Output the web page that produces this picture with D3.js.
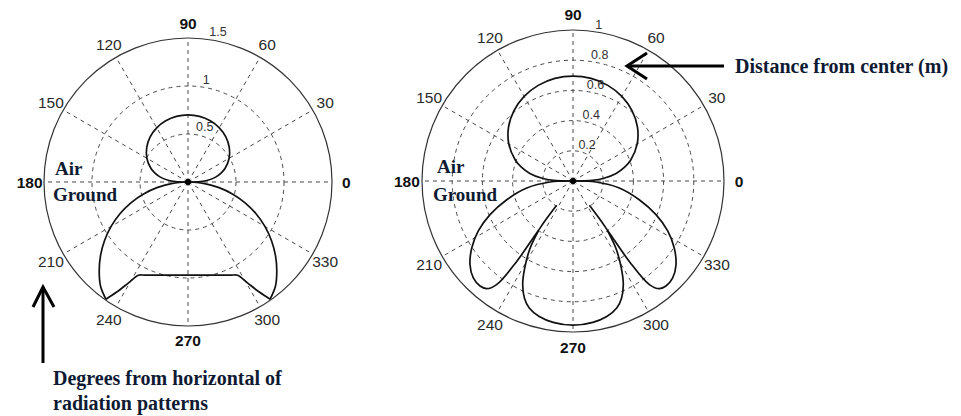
<!DOCTYPE html>
<html>
<head>
<meta charset="utf-8">
<script src="https://cdn.jsdelivr.net/npm/d3@7"></script>
<style>
  html, body { margin: 0; padding: 0; background: #fff; }
  svg { display: block; }
</style>
</head>
<body>
<svg id="chart" width="961" height="416"></svg>
<script>
// ---------------- DATA ----------------
const angleTicks = [0, 30, 60, 90, 120, 150, 180, 210, 240, 270, 300, 330];

// Left plot
const leftRings = [0.5, 1, 1.5];
const leftRingLabels = ["0.5", "1", "1.5"];
const leftAirAngles = [0, 2, 5, 10, 15, 20, 30, 40, 50, 60, 70, 80, 90, 100, 110, 120, 130, 140, 150, 160, 165, 170, 175, 178, 180];
const leftAirR      = [0, .131, .207, .292, .356, .41, .495, .561, .613, .652, .678, .694, .70, .694, .678, .652, .613, .561, .495, .41, .356, .292, .207, .131, 0];
// ground pattern, split into pieces at sharp corners
const leftGroundPieces = [
  { angles: [180, 185, 190, 195, 200, 205, 210, 215, 220, 225, 230, 235],
    r:      [0, .161, .321, .479, .633, .782, .925, 1.061, 1.189, 1.308, 1.417, 1.49] },
  { angles: [235, 237, 239.5, 242, 245, 250, 255, 260, 265, 270, 275, 280, 285, 290, 295, 298, 300.5, 303, 305],
    r:      [1.49, 1.37, 1.22, 1.10, 1.07, 1.032, 1.004, .985, .974, .97, .974, .985, 1.004, 1.032, 1.07, 1.10, 1.22, 1.37, 1.49] },
  { angles: [305, 310, 315, 320, 325, 330, 335, 340, 345, 350, 355, 360],
    r:      [1.49, 1.417, 1.308, 1.189, 1.061, .925, .782, .633, .479, .321, .161, 0] }
];

// Right plot
const rightRings = [0.2, 0.4, 0.6, 0.8, 1];
const rightRingLabels = ["0.2", "0.4", "0.6", "0.8", "1"];
const rightAirAngles = [0, 2, 5, 10, 15, 20, 30, 40, 50, 60, 70, 80, 90, 100, 110, 120, 130, 140, 150, 160, 165, 170, 175, 178, 180];
const rightAirR      = [0, .13, .205, .29, .354, .407, .491, .557, .608, .647, .674, .69, .695, .69, .674, .647, .608, .557, .491, .407, .354, .29, .205, .13, 0];
const rightGroundAngles = [236, 235, 235, 235, 233.6, 231.3, 228.5, 224.2, 219.1, 213.5, 207.8, 202.1, 195.8, 188.6, 182.5, 180,
                           357.5, 351.4, 344.2, 337.9, 332.2, 326.5, 320.9, 315.8, 311.5, 308.7, 306.4, 305, 305, 305, 304];
const rightGroundR      = [.194, .30, .42, .65, .853, .914, .929, .921, .879, .804, .709, .593, .456, .31, .152, 0,
                           .152, .31, .456, .593, .709, .804, .879, .921, .929, .914, .853, .65, .42, .30, .194];
const rightMidAngles = [235.2, 237.5, 241, 244, 247.5, 251, 256, 262, 270, 278, 284, 289, 292.5, 296, 299, 302.5, 304.8];
const rightMidR      = [.40, .53, .66, .76, .84, .89, .925, .945, .955, .945, .925, .89, .84, .76, .66, .53, .40];

// ---------------- DRAW ----------------
const svg = d3.select("#chart");
svg.append("rect").attr("width", 961).attr("height", 416).attr("fill", "#fff");

const rad = a => (90 - a) * Math.PI / 180;

function polarPlot(cx, cy, R, rings, ringLabels, rinc) {
  const rmax = rings[rings.length - 1];
  const rS = d3.scaleLinear().domain([0, rmax]).range([0, R]);
  const g = svg.append("g").attr("transform", `translate(${cx},${cy})`);
  const gridColor = "#4a4a4a";
  // spokes
  g.selectAll("line.spoke").data(angleTicks).join("line")
    .attr("x1", 0).attr("y1", 0)
    .attr("x2", d => rS(rmax) * Math.cos(d * Math.PI / 180))
    .attr("y2", d => -rS(rmax) * Math.sin(d * Math.PI / 180))
    .attr("stroke", gridColor).attr("stroke-width", 1).attr("stroke-dasharray", "4,4");
  // inner rings (dashed)
  g.selectAll("circle.ring").data(rings.slice(0, -1)).join("circle")
    .attr("r", d => rS(d)).attr("fill", "none")
    .attr("stroke", gridColor).attr("stroke-width", 1).attr("stroke-dasharray", "4,4");
  // outer ring
  g.append("circle").attr("r", rS(rmax)).attr("fill", "none")
    .attr("stroke", "#333").attr("stroke-width", 1.2);
  // ring labels at 82 degrees
  const a82 = 82 * Math.PI / 180;
  g.selectAll("text.rl").data(rings).join("text")
    .attr("x", d => rS(d + rinc / 20) * Math.cos(a82) + 1)
    .attr("y", d => -rS(d + rinc / 20) * Math.sin(a82) - 1)
    .attr("font-family", "Liberation Sans, Arial, sans-serif")
    .attr("font-size", 12.5).attr("fill", "#333")
    .text((d, i) => ringLabels[i]);
  // angle labels
  g.selectAll("text.al").data(angleTicks).join("text")
    .attr("x", d => rS(rmax) * 1.1 * Math.cos(d * Math.PI / 180))
    .attr("y", d => -rS(rmax) * 1.1 * Math.sin(d * Math.PI / 180))
    .attr("text-anchor", "middle").attr("dominant-baseline", "central")
    .attr("font-family", "Liberation Sans, Arial, sans-serif")
    .attr("font-size", 15.5)
    .attr("font-weight", d => d % 90 === 0 ? "bold" : "normal")
    .attr("fill", d => d % 90 === 0 ? "#111" : "#2a2a2a")
    .text(d => d);
  const line = d3.lineRadial()
    .angle(d => rad(d[0])).radius(d => rS(d[1]))
    .curve(d3.curveCatmullRom.alpha(0.5));
  return { g, line };
}

function curve(p, angles, r) {
  p.g.append("path").attr("d", p.line(d3.zip(angles, r)))
    .attr("fill", "none").attr("stroke", "#111").attr("stroke-width", 1.7)
    .attr("stroke-linejoin", "round");
}

// Left plot
const L = polarPlot(188, 182, 144, leftRings, leftRingLabels, 0.5);
curve(L, leftAirAngles, leftAirR);
leftGroundPieces.forEach(pc => curve(L, pc.angles, pc.r));
L.g.append("circle").attr("r", 3).attr("fill", "#000");

// Right plot
const Rp = polarPlot(573, 181, 151, rightRings, rightRingLabels, 0.2);
curve(Rp, rightAirAngles, rightAirR);
curve(Rp, rightGroundAngles, rightGroundR);
curve(Rp, rightMidAngles, rightMidR);
Rp.g.append("circle").attr("r", 3).attr("fill", "#000");

// Air / Ground labels
const serif = "Liberation Serif, Times New Roman, serif";
const navy = "#0f1a33";
function label(x, y, t, size) {
  svg.append("text").attr("x", x).attr("y", y).text(t)
    .attr("font-family", serif).attr("font-weight", "bold")
    .attr("font-size", size).attr("fill", navy);
}
label(55, 175, "Air", 19);
label(53, 201, "Ground", 19);
label(437, 173, "Air", 19);
label(433, 201, "Ground", 19);

// annotations
label(53, 385, "Degrees from horizontal of", 20);
label(53, 410, "radiation patterns", 20);
label(735, 73, "Distance from center (m)", 20);

svg.append("line").attr("x1", 43).attr("y1", 363).attr("x2", 43).attr("y2", 289)
  .attr("stroke", "#000").attr("stroke-width", 3);
svg.append("polyline").attr("points", "33,307 43,287 54,307")
  .attr("fill", "none").attr("stroke", "#000").attr("stroke-width", 3);
svg.append("line").attr("x1", 628).attr("y1", 66).attr("x2", 724).attr("y2", 66)
  .attr("stroke", "#000").attr("stroke-width", 3);
svg.append("polyline").attr("points", "647,53 627,66 647,79")
  .attr("fill", "none").attr("stroke", "#000").attr("stroke-width", 3);
</script>
</body>
</html>
